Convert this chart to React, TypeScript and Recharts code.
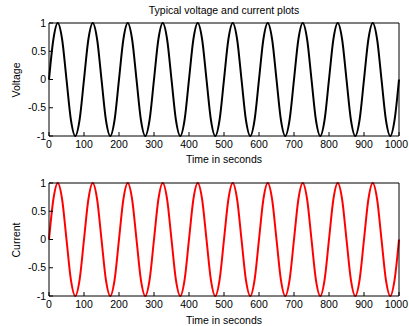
import { Line, LineChart, XAxis, YAxis } from 'recharts'

// time in seconds, sampled every 12.5 s
const time = [
  0, 12.5, 25, 37.5, 50, 62.5, 75, 87.5,
  100, 112.5, 125, 137.5, 150, 162.5, 175, 187.5,
  200, 212.5, 225, 237.5, 250, 262.5, 275, 287.5,
  300, 312.5, 325, 337.5, 350, 362.5, 375, 387.5,
  400, 412.5, 425, 437.5, 450, 462.5, 475, 487.5,
  500, 512.5, 525, 537.5, 550, 562.5, 575, 587.5,
  600, 612.5, 625, 637.5, 650, 662.5, 675, 687.5,
  700, 712.5, 725, 737.5, 750, 762.5, 775, 787.5,
  800, 812.5, 825, 837.5, 850, 862.5, 875, 887.5,
  900, 912.5, 925, 937.5, 950, 962.5, 975, 987.5,
  1000,
]

const voltage = [
  0, 0.71, 1, 0.71, 0, -0.71, -1, -0.71,
  0, 0.71, 1, 0.71, 0, -0.71, -1, -0.71,
  0, 0.71, 1, 0.71, 0, -0.71, -1, -0.71,
  0, 0.71, 1, 0.71, 0, -0.71, -1, -0.71,
  0, 0.71, 1, 0.71, 0, -0.71, -1, -0.71,
  0, 0.71, 1, 0.71, 0, -0.71, -1, -0.71,
  0, 0.71, 1, 0.71, 0, -0.71, -1, -0.71,
  0, 0.71, 1, 0.71, 0, -0.71, -1, -0.71,
  0, 0.71, 1, 0.71, 0, -0.71, -1, -0.71,
  0, 0.71, 1, 0.71, 0, -0.71, -1, -0.71,
  0,
]

const current = [
  0, 0.71, 1, 0.71, 0, -0.71, -1, -0.71,
  0, 0.71, 1, 0.71, 0, -0.71, -1, -0.71,
  0, 0.71, 1, 0.71, 0, -0.71, -1, -0.71,
  0, 0.71, 1, 0.71, 0, -0.71, -1, -0.71,
  0, 0.71, 1, 0.71, 0, -0.71, -1, -0.71,
  0, 0.71, 1, 0.71, 0, -0.71, -1, -0.71,
  0, 0.71, 1, 0.71, 0, -0.71, -1, -0.71,
  0, 0.71, 1, 0.71, 0, -0.71, -1, -0.71,
  0, 0.71, 1, 0.71, 0, -0.71, -1, -0.71,
  0, 0.71, 1, 0.71, 0, -0.71, -1, -0.71,
  0,
]

const xTicks = [0, 100, 200, 300, 400, 500, 600, 700, 800, 900, 1000]
const yTicks = [-1, -0.5, 0, 0.5, 1]

const font = 'Liberation Sans, Arial, Helvetica, sans-serif'
const tickStyle = { fill: '#000', fontSize: 10.5, fontFamily: font }

const rows = time.map((t, i) => ({ t, v: voltage[i], c: current[i] }))

// keeps the last label ("1000") inside the window edge
function XTick(props: any) {
  const { x, y, payload } = props
  const last = payload.value === xTicks[xTicks.length - 1]
  return (
    <text
      x={last ? 408 : x}
      y={y}
      dy="0.71em"
      textAnchor={last ? 'end' : 'middle'}
      style={tickStyle}
    >
      {payload.value}
    </text>
  )
}

function Panel({ dataKey, color, top, bottom }: { dataKey: string; color: string; top: number; bottom: number }) {
  return (
    <LineChart width={409} height={163} data={rows} margin={{ top, bottom, left: 48, right: 9 }}>
      <XAxis
        dataKey="t"
        type="number"
        domain={[0, 1000]}
        ticks={xTicks}
        height={1}
        tickSize={-4}
        tickMargin={9}
        tick={<XTick />}
        axisLine={{ stroke: '#000' }}
        tickLine={{ stroke: '#000' }}
        interval={0}
      />
      <XAxis
        xAxisId="top"
        orientation="top"
        dataKey="t"
        type="number"
        domain={[0, 1000]}
        ticks={xTicks}
        height={1}
        tickSize={-4}
        tick={false}
        axisLine={{ stroke: '#000' }}
        tickLine={{ stroke: '#000' }}
      />
      <YAxis
        type="number"
        domain={[-1, 1]}
        ticks={yTicks}
        width={1}
        tickSize={-4}
        tickMargin={7}
        tick={tickStyle}
        axisLine={{ stroke: '#000' }}
        tickLine={{ stroke: '#000' }}
        interval={0}
      />
      <YAxis
        yAxisId="right"
        orientation="right"
        type="number"
        domain={[-1, 1]}
        ticks={yTicks}
        width={1}
        tickSize={-4}
        tick={false}
        axisLine={{ stroke: '#000' }}
        tickLine={{ stroke: '#000' }}
      />
      <Line
        dataKey={dataKey}
        type="monotone"
        stroke={color}
        strokeWidth={2}
        dot={false}
        activeDot={false}
        isAnimationActive={false}
      />
    </LineChart>
  )
}

export default function App() {
  const labelStyle = { fontFamily: font, fontSize: 10.5, fill: '#000' }
  return (
    <div style={{ position: 'absolute', left: 0, top: 0, width: 409, height: 326, background: '#fff' }}>
      <div style={{ position: 'absolute', left: 0, top: 0 }}>
        <Panel dataKey="v" color="#000" top={22} bottom={26} />
      </div>
      <div style={{ position: 'absolute', left: 0, top: 163 }}>
        <Panel dataKey="c" color="#ff0000" top={19} bottom={29} />
      </div>
      <svg width={409} height={326} style={{ position: 'absolute', left: 0, top: 0, pointerEvents: 'none' }}>
        <text x={224} y={14} textAnchor="middle" style={labelStyle}>Typical voltage and current plots</text>
        <text x={224} y={163} textAnchor="middle" style={labelStyle}>Time in seconds</text>
        <text x={224} y={324} textAnchor="middle" style={labelStyle}>Time in seconds</text>
        <text x={20} y={80} textAnchor="middle" transform="rotate(-90 20 80)" style={labelStyle}>Voltage</text>
        <text x={20} y={240} textAnchor="middle" transform="rotate(-90 20 240)" style={labelStyle}>Current</text>
      </svg>
    </div>
  )
}
